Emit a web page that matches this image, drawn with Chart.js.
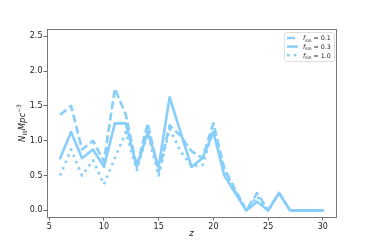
<!DOCTYPE html>
<html><head><meta charset="utf-8">
<script src="https://cdn.jsdelivr.net/npm/chart.js@4"></script>
<style>html,body{margin:0;padding:0;background:#fff}</style>
</head><body>
<canvas id="c" width="374" height="249"></canvas>
<script>
const zValues = [6,7,8,9,10,11,12,13,14,15,16,17,18,19,20,21,22,23,24,25,26,27,28,29,30];
const fLabels = ['0.1','0.3','1.0'];
const nF01 = [1.375,1.5,0.875,1.0,0.7,1.75,1.375,0.625,1.25,0.55,1.22,1.07,0.85,0.75,1.25,0.6,0.3,0,0.25,0,0.25,0,0,0,0];
const nF03 = [0.75,1.125,0.75,0.875,0.625,1.25,1.25,0.625,1.125,0.625,1.625,1.125,0.625,0.75,1.125,0.5,0.25,0,0.125,0,0.25,0,0,0,0];
const nF10 = [0.5,0.875,0.5,0.72,0.375,0.75,1.125,0.58,1.1,0.5,1.17,0.85,0.63,0.65,1.15,0.55,0.27,0,0.2,0,0.25,0,0,0,0];
const xTicks = [5,10,15,20,25,30];
const yTicks = [0,0.5,1,1.5,2,2.5];

const COLOR = '#87CEFA';
const FONT = 'DejaVu Sans';
const styles = [
  {dash:[8,3.5], cap:'butt'},
  {dash:[], cap:'square'},
  {dash:[2.6,4.2], cap:'butt'}
];
const series = [nF01, nF03, nF10];

function drawRich(ctx, segs, x, y, size, align) {
  const parts = segs.map(s => {
    const sz = (s.sub || s.sup) ? size * 0.7 : size;
    const f = (s.it ? 'italic ' : '') + sz + 'px "' + FONT + '"';
    ctx.font = f;
    return {s, f, w: ctx.measureText(s.t).width};
  });
  const total = parts.reduce((a, p) => a + p.w, 0);
  let cx = align === 'center' ? x - total / 2 : x;
  ctx.textBaseline = 'alphabetic';
  ctx.textAlign = 'left';
  for (const p of parts) {
    ctx.font = p.f;
    let dy = 0;
    if (p.s.sub) dy = size * 0.25;
    if (p.s.sup) dy = -size * 0.42;
    ctx.fillText(p.s.t, cx, y + dy);
    cx += p.w;
  }
  return total;
}

const framePlugin = {
  id: 'frame',
  afterDraw(chart) {
    const {ctx, chartArea: a} = chart;
    ctx.save();
    ctx.strokeStyle = '#777';
    ctx.lineWidth = 1;
    ctx.strokeRect(Math.round(a.left) + 0.5, Math.round(a.top) + 0.5, Math.round(a.right - a.left), Math.round(a.bottom - a.top));
    ctx.fillStyle = '#222';
    // x axis title
    drawRich(ctx, [{t:'z', it:true}], (a.left + a.right) / 2, 236, 8.5, 'center');
    // y axis title
    ctx.translate(25, (a.top + a.bottom) / 2);
    ctx.rotate(-Math.PI / 2);
    drawRich(ctx, [{t:'N', it:true}, {t:'III', sub:true}, {t:'Mpc', it:true}, {t:'\u22123', sup:true}], 0, 0, 8.5, 'center');
    ctx.restore();

    // legend
    ctx.save();
    const bx = 284, by = 32, bw = 50, bh = 29;
    ctx.fillStyle = 'rgba(255,255,255,0.85)';
    ctx.strokeStyle = '#d6d6d6';
    ctx.lineWidth = 0.8;
    ctx.beginPath();
    if (ctx.roundRect) ctx.roundRect(bx + 0.5, by + 0.5, bw, bh, 2); else ctx.rect(bx + 0.5, by + 0.5, bw, bh);
    ctx.fill(); ctx.stroke();
    chart.data.datasets.forEach((ds, i) => {
      const yy = by + 6 + i * 8.6;
      ctx.strokeStyle = COLOR;
      ctx.lineWidth = 2.4;
      ctx.lineCap = styles[i].cap === 'square' ? 'butt' : styles[i].cap;
      ctx.setLineDash(styles[i].dash);
      ctx.beginPath(); ctx.moveTo(287, yy); ctx.lineTo(298, yy); ctx.stroke();
      ctx.setLineDash([]);
      ctx.fillStyle = '#222';
      drawRich(ctx, [{t:'f', it:true}, {t:'sin', sub:true}, {t:' = ' + fLabels[i]}], 303, yy + 2.3, 6.3, 'left');
    });
    ctx.restore();
  }
};

const ctxEl = document.getElementById('c');
new Chart(ctxEl, {
  type: 'line',
  data: {
    datasets: series.map((vals, i) => ({
      label: 'f_sin = ' + fLabels[i],
      data: zValues.map((z, k) => ({x: z, y: vals[k]})),
      borderColor: COLOR,
      backgroundColor: COLOR,
      borderWidth: 2.6,
      borderDash: styles[i].dash,
      borderCapStyle: styles[i].cap,
      borderJoinStyle: 'round',
      pointRadius: 0,
      tension: 0,
      fill: false
    }))
  },
  options: {
    responsive: false,
    animation: false,
    devicePixelRatio: 1,
    layout: {padding: {left: 0, top: 29, right: 38, bottom: 0}},
    plugins: {legend: {display: false}, tooltip: {enabled: false}},
    scales: {
      x: {
        type: 'linear', min: 4.8, max: 31.2,
        afterBuildTicks: s => { s.ticks = xTicks.map(v => ({value: v})); },
        afterFit: s => { s.height = 32; },
        grid: {drawOnChartArea: false, drawTicks: true, tickLength: 3.5, color: '#444', tickWidth: 0.8},
        border: {display: false},
        ticks: {font: {family: FONT, size: 8}, color: '#222', padding: 1.5, maxRotation: 0,
                callback: v => String(v)}
      },
      y: {
        type: 'linear', min: -0.095, max: 2.605,
        afterBuildTicks: s => { s.ticks = yTicks.map(v => ({value: v})); },
        afterFit: s => { s.width = 47; },
        grid: {drawOnChartArea: false, drawTicks: true, tickLength: 3.5, color: '#444', tickWidth: 0.8},
        border: {display: false},
        ticks: {font: {family: FONT, size: 8}, color: '#222', padding: 1,
                callback: v => Number(v).toFixed(1)}
      }
    }
  },
  plugins: [framePlugin]
});
</script>
</body></html>
